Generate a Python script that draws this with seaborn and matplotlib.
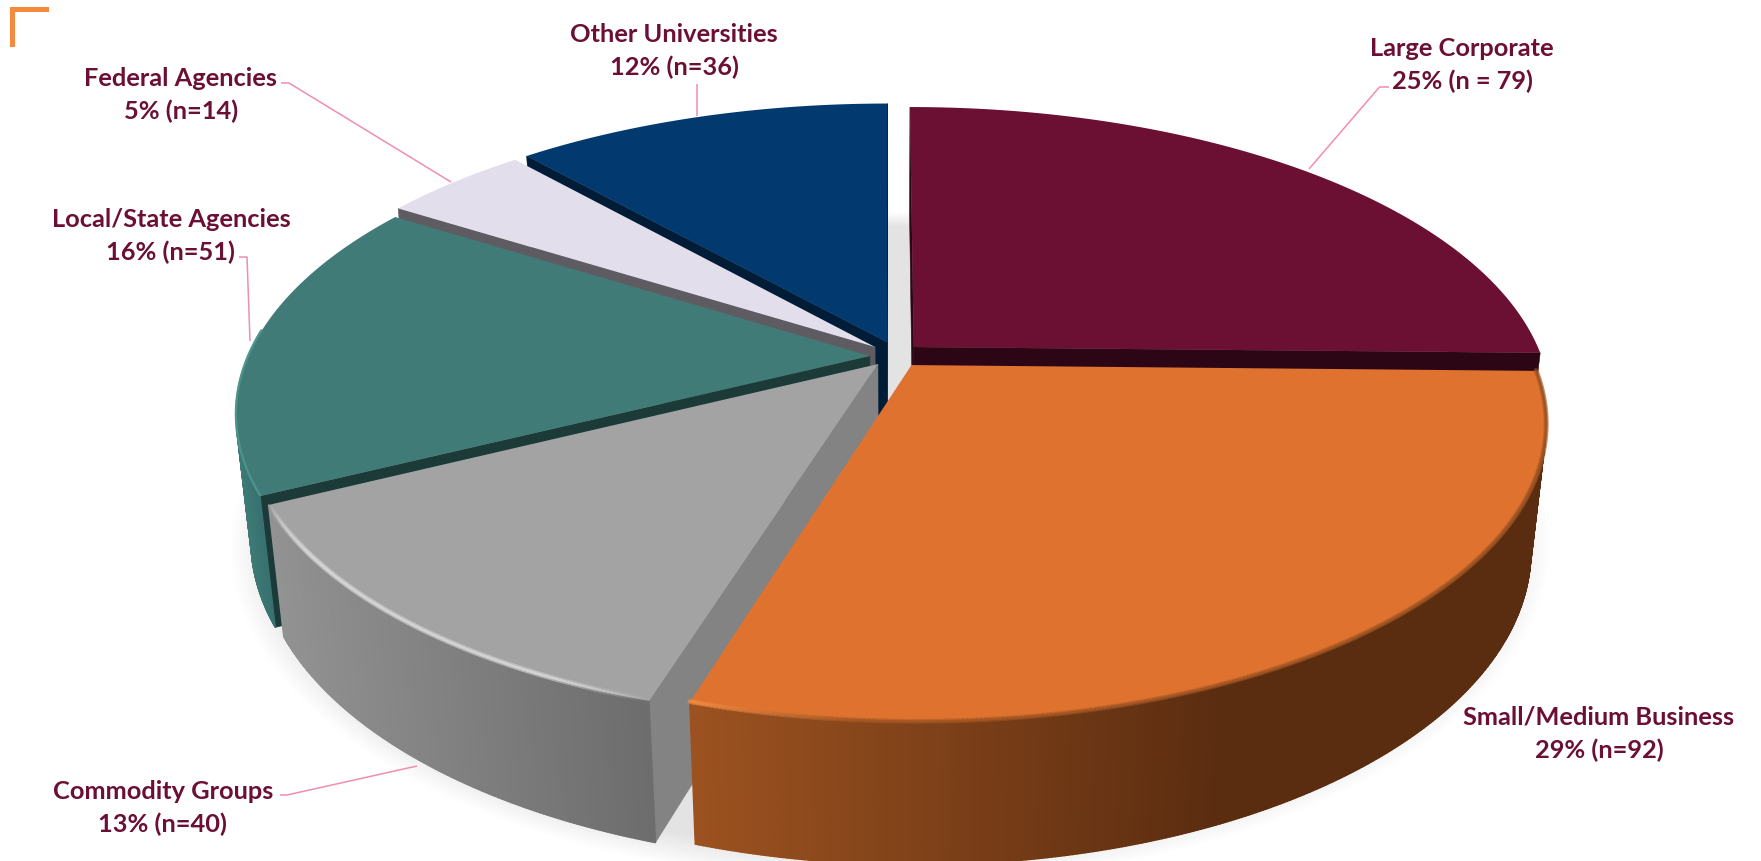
import numpy as np
import matplotlib
matplotlib.use("Agg")
import matplotlib.pyplot as plt
from matplotlib.collections import LineCollection, PolyCollection
from matplotlib.colors import to_rgb
from matplotlib.patches import Polygon, Rectangle
import seaborn as sns

# Survey counts per partner type, clockwise from twelve o'clock
categories = ["Large Corporate", "Small/Medium Business", "Commodity Groups",
              "Local/State Agencies", "Federal Agencies", "Other Universities"]
counts = [79, 92, 40, 51, 14, 36]
percents = [25, 29, 13, 16, 5, 12]
count_formats = ["{}% (n = {})", "{}% (n={})", "{}% (n={})",
                 "{}% (n={})", "{}% (n={})", "{}% (n={})"]

top_colors = ["#6b0f33", "#e07230", "#a3a3a3", "#417b78", "#e2deeb", "#023a70"]
cut_colors = ["#2c0614", "#5a2c10", "#838383", "#1c3a38", "#5e5c62", "#001c36"]
side_start = ["#2c0614", "#9c5220", "#929292", "#3f7d77", "#5e5c62", "#001c36"]
side_end = ["#2c0614", "#5a2c10", "#6c6c6c", "#33696a", "#5e5c62", "#001c36"]

# How far each slice is pulled out of the pie, and its radius
pull_x = [0.0381, 0.034, -0.0191, -0.032, -0.0239, -0.0048]
pull_y = [0.0243, -0.038, -0.0347, -0.007, 0.0243, 0.0417]
radii = [1.0, 0.985, 0.985, 0.99, 1.0, 1.0]

# Painter's order: far slices first
draw_order = [5, 4, 3, 0, 2, 1]

# Perspective camera
CENTER_U, CENTER_V = 890.0, 355.0
DIST = 4.6
FOCAL = 2884.0
SIN_E, COS_E = 0.4606, 0.888
THICK = 0.2266
CAMERA = np.array([0.0, -DIST * COS_E])


def project(x, y, z):
    w = DIST + y * COS_E - z * SIN_E
    return CENTER_U + FOCAL * x / w, CENTER_V - FOCAL * (y * SIN_E + z * COS_E) / w


def xy_stack(x, y, z):
    u, v = project(np.asarray(x, float), np.asarray(y, float), z)
    return np.column_stack([u, v])


def mix(a, b, t):
    a, b = np.array(to_rgb(a)), np.array(to_rgb(b))
    return tuple(a + (b - a) * t)


sns.set_theme(style="white")
plt.rcParams["font.family"] = ["Lato", "DejaVu Sans"]
palette = sns.color_palette(top_colors)

fig = plt.figure(figsize=(17.61, 8.62), dpi=100, facecolor="white")
ax = fig.add_axes([0, 0, 1, 1])
ax.set_xlim(0, 1761)
ax.set_ylim(862, 0)
ax.axis("off")

# Soft ground shadow under the pie
circle = np.radians(np.linspace(0, 360, 361))
for radius in np.linspace(1.05, 0.985, 14):
    ax.add_patch(Polygon(
        xy_stack(radius * np.sin(circle), radius * np.cos(circle) - 0.012, -THICK),
        closed=True, facecolor="black", edgecolor="none", alpha=0.0085, zorder=1))

# Slice angles come straight from the counts
fractions = np.array(counts) / np.sum(counts)
stops = np.concatenate([[0], np.cumsum(fractions) * 360])

zorder = 2
for i in draw_order:
    a, b = stops[i], stops[i + 1]
    px, py, rad = pull_x[i], pull_y[i], radii[i]
    theta = np.radians(np.linspace(a, b, max(int(b - a) * 3, 12)))
    xs = px + rad * np.sin(theta)
    ys = py + rad * np.cos(theta)
    top = xy_stack(xs, ys, 0)
    bottom = xy_stack(xs, ys, -THICK)
    apex_top = xy_stack([px], [py], 0)[0]
    apex_bottom = xy_stack([px], [py], -THICK)[0]

    # Radial cut faces that turn toward the camera
    to_apex = np.array([px, py]) - CAMERA
    ra, rb = np.radians(a), np.radians(b)
    normal_start = np.array([-np.cos(ra), np.sin(ra)])
    normal_end = np.array([np.cos(rb), -np.sin(rb)])
    if to_apex @ normal_start < 0:
        ax.add_patch(Polygon([apex_top, top[0], bottom[0], apex_bottom], closed=True,
                             facecolor=cut_colors[i], edgecolor=cut_colors[i],
                             linewidth=0.4, zorder=zorder))
    if to_apex @ normal_end < 0:
        ax.add_patch(Polygon([apex_top, top[-1], bottom[-1], apex_bottom], closed=True,
                             facecolor=cut_colors[i], edgecolor=cut_colors[i],
                             linewidth=0.4, zorder=zorder))
    zorder += 1

    # Outer wall, shaded from left to right across the image
    quads, shades = [], []
    for k in range(len(theta) - 1):
        mid = 0.5 * (theta[k] + theta[k + 1])
        normal = np.array([np.sin(mid), np.cos(mid)])
        rim_point = np.array([px + rad * normal[0], py + rad * normal[1]])
        if (rim_point - CAMERA) @ normal >= 0:
            continue
        quads.append([top[k], top[k + 1], bottom[k + 1], bottom[k]])
        u = 0.5 * (top[k, 0] + top[k + 1, 0])
        u_min, u_max = {1: (690, 1230), 2: (270, 655)}.get(i, (230, 280))
        shades.append(mix(side_start[i], side_end[i], np.clip((u - u_min) / (u_max - u_min), 0, 1)))
    if quads:
        ax.add_collection(PolyCollection(quads, facecolors=shades, edgecolors=shades,
                                         linewidths=1.0, zorder=zorder))
    zorder += 1

    # Top face
    outline = np.vstack([[apex_top], top])
    ax.add_patch(Polygon(outline, closed=True, facecolor=palette[i], edgecolor="none",
                         zorder=zorder))
    zorder += 1

    # Bevel along the front rim, built from a wide faint pass and a narrow one
    segs = np.stack([top[:-1], top[1:]], axis=1)
    seg_mid = np.degrees(0.5 * (theta[:-1] + theta[1:]))
    seg_u = segs[:, :, 0].mean(axis=1)
    if i == 1:
        glow = np.clip((seg_u - 690) / 170, 0, 1)
        wide = [mix("#f28a42", "#a85a26", g) + (0.55 - 0.2 * g,) for g in glow]
        narrow = [mix("#f28a42", "#9a5222", g) + (0.85 - 0.25 * g,) for g in glow]
        passes = [(wide, 3.6), (narrow, 1.6)]
    elif i == 2:
        fade = np.clip(np.sin(np.radians((seg_mid - a) / (b - a) * 180)) * 1.7, 0, 1)
        wide = [(0.80, 0.80, 0.80, 0.45 * f) for f in fade]
        narrow = [(0.84, 0.84, 0.84, 0.85 * f) for f in fade]
        passes = [(wide, 4.0), (narrow, 1.6)]
    elif i == 3:
        front = (seg_mid < 275).astype(float)
        narrow = [(0.30, 0.58, 0.55, 0.9 * f) for f in front]
        passes = [(narrow, 1.6)]
    else:
        passes = []
    for colors, width in passes:
        ax.add_collection(LineCollection(segs + [0, -0.8], colors=colors, linewidths=width,
                                         capstyle="round", zorder=zorder))
        zorder += 1

text_top = zorder + 10

# Leader lines from each label to its slice
leaders = {
    "Large Corporate": ([1389, 1379.5, 1309], [88, 88, 170]),
    "Commodity Groups": ([280, 287, 417], [796, 796, 767]),
    "Local/State Agencies": ([239, 247, 250], [258, 258, 342]),
    "Federal Agencies": ([281, 289, 451], [84, 84, 183]),
    "Other Universities": ([697, 697], [85, 117]),
}
for xs_line, ys_line in leaders.values():
    ax.plot(xs_line, ys_line, color="#f08db2", linewidth=1.1, zorder=text_top,
            solid_capstyle="butt")

# Two-line slice labels, placed by hand around the pie
label_x = [1462, 1599, 163, 171, 181, 674]
label_y = [48.5, 717.5, 791.5, 219.5, 78.5, 34.5]
LINE_GAP = 32.5
for i, name in enumerate(categories):
    for line, offset in ((name, 0), (count_formats[i].format(percents[i], counts[i]), LINE_GAP)):
        ax.text(label_x[i], label_y[i] + offset, line, ha="center", va="center",
                fontsize=18.3, fontweight="bold", color="#6b0f35", zorder=text_top + 1)

# Orange corner bracket
ax.add_patch(Rectangle((10, 8), 39, 5, facecolor="#f58a3c", edgecolor="none", zorder=text_top))
ax.add_patch(Rectangle((10, 8), 5, 40, facecolor="#f58a3c", edgecolor="none", zorder=text_top))

fig.savefig("out.png", dpi=100, facecolor="white")
